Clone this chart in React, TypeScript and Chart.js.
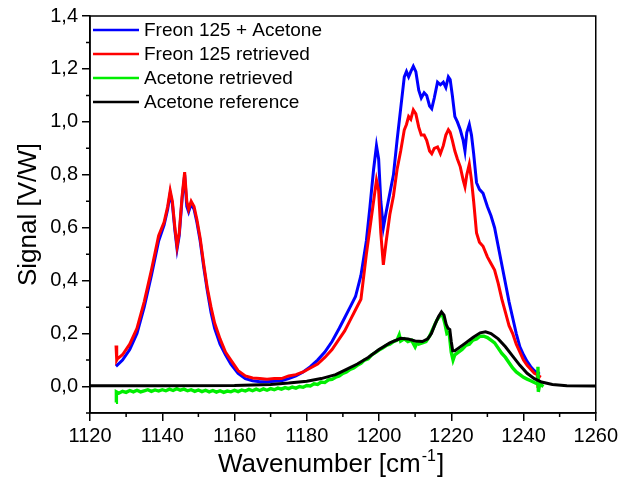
import React, { useEffect, useRef } from "react";
import { Chart, registerables } from "chart.js";

Chart.register(...registerables);

const FONT = "'Liberation Sans', Arial, sans-serif";

const xTickValues = [1120, 1140, 1160, 1180, 1200, 1220, 1240, 1260];
const xMinorTicks = [1130, 1150, 1170, 1190, 1210, 1230, 1250];
const yTickValues = [0, 0.2, 0.4, 0.6, 0.8, 1.0, 1.2, 1.4];
const yMinorTicks = [-0.1, 0.1, 0.3, 0.5, 0.7, 0.9, 1.1, 1.3];

const seriesLabels = ["Freon 125 + Acetone", "Freon 125 retrieved", "Acetone retrieved", "Acetone reference"];

const mixX = [1127.2, 1127.5, 1129, 1131, 1133, 1135, 1137, 1139, 1140.5, 1141.5, 1142.2, 1142.8, 1143.5, 1144.1, 1144.7, 1145.5, 1146.2, 1146.8, 1147.3, 1148, 1148.8, 1149.6, 1150.5, 1151.5, 1152.5, 1153.5, 1154.5, 1156, 1157.5, 1159, 1161, 1163, 1165, 1167, 1169, 1171, 1173, 1175, 1177, 1179, 1181, 1183, 1185, 1187, 1189, 1190.5, 1192, 1193.5, 1195, 1196.5, 1197.5, 1198.5, 1199.3, 1199.9, 1200.5, 1201.2, 1202, 1203, 1204, 1205, 1206, 1207, 1207.6, 1208.2, 1208.8, 1209.5, 1210.2, 1211, 1211.7, 1212.5, 1213.2, 1214, 1214.6, 1215.3, 1216.2, 1217, 1217.8, 1218.5, 1219.2, 1219.7, 1220.3, 1221, 1221.7, 1222.5, 1223.3, 1223.8, 1224.3, 1225, 1225.6, 1226.2, 1227, 1227.8, 1228.8, 1230, 1231, 1232, 1233, 1234, 1235, 1236, 1237, 1238, 1239, 1240, 1241, 1242, 1243, 1244, 1244.6];
const mixY = [0.085, 0.08, 0.1, 0.14, 0.2, 0.3, 0.42, 0.55, 0.61, 0.67, 0.73, 0.69, 0.59, 0.52, 0.57, 0.71, 0.8, 0.68, 0.66, 0.69, 0.67, 0.62, 0.55, 0.45, 0.36, 0.28, 0.22, 0.16, 0.12, 0.085, 0.05, 0.03, 0.022, 0.018, 0.018, 0.02, 0.022, 0.03, 0.04, 0.055, 0.075, 0.1, 0.13, 0.17, 0.22, 0.26, 0.3, 0.34, 0.42, 0.55, 0.68, 0.82, 0.91, 0.86, 0.7, 0.6, 0.66, 0.73, 0.8, 0.93, 1.05, 1.17, 1.19, 1.17, 1.19, 1.21, 1.19, 1.12, 1.09, 1.11, 1.1, 1.06, 1.05, 1.09, 1.15, 1.14, 1.15, 1.13, 1.17, 1.16, 1.1, 1.02, 1.0, 0.97, 0.93, 0.89, 0.96, 0.99, 0.95, 0.88, 0.77, 0.745, 0.73, 0.68, 0.645, 0.6, 0.53, 0.46, 0.39, 0.32, 0.26, 0.2, 0.15, 0.12, 0.095, 0.075, 0.06, 0.05, 0.05];

const freonX = [1127.2, 1127.4, 1127.6, 1129, 1131, 1133, 1135, 1137, 1139, 1140.5, 1141.5, 1142.2, 1142.8, 1143.5, 1144.1, 1144.7, 1145.5, 1146.2, 1146.8, 1147.3, 1148, 1148.8, 1149.6, 1150.5, 1151.5, 1152.5, 1153.5, 1154.5, 1156, 1157.5, 1159, 1161, 1163, 1165, 1167, 1169, 1171, 1173, 1175, 1177, 1179, 1181, 1183, 1185, 1187, 1189, 1190.5, 1192, 1193.5, 1195, 1196.5, 1197.5, 1198.5, 1199.3, 1199.9, 1200.5, 1201.2, 1202, 1203, 1204, 1205, 1206, 1207, 1207.6, 1208.2, 1208.8, 1209.5, 1210.2, 1211, 1211.7, 1212.5, 1213.2, 1214, 1214.6, 1215.3, 1216.2, 1217, 1217.8, 1218.5, 1219.2, 1219.7, 1220.3, 1221, 1221.7, 1222.5, 1223.3, 1223.8, 1224.3, 1225, 1225.6, 1226.2, 1227, 1227.8, 1228.8, 1230, 1231, 1232, 1233, 1234, 1235, 1236, 1237, 1238, 1239, 1240, 1241, 1242, 1243, 1243.8, 1244, 1244.2, 1244.8];
const freonY = [0.155, 0.1, 0.105, 0.12, 0.16, 0.22, 0.32, 0.44, 0.57, 0.62, 0.68, 0.74, 0.7, 0.6, 0.53, 0.58, 0.72, 0.81, 0.7, 0.67, 0.7, 0.68, 0.63, 0.56, 0.46, 0.37, 0.3, 0.24, 0.18, 0.13, 0.1, 0.06, 0.04, 0.032, 0.03, 0.028, 0.03, 0.03, 0.04, 0.045, 0.055, 0.07, 0.085, 0.11, 0.14, 0.18, 0.21, 0.25, 0.29, 0.33, 0.5, 0.6, 0.7, 0.78, 0.74, 0.58, 0.46, 0.55, 0.65, 0.72, 0.82, 0.89, 0.97, 0.99, 1.02, 1.01, 1.045, 1.03, 0.98, 0.95, 0.95, 0.93, 0.89, 0.88, 0.9, 0.905, 0.88, 0.91, 0.95, 0.97, 0.96, 0.93, 0.89, 0.86, 0.83, 0.78, 0.755, 0.8, 0.84, 0.78, 0.7, 0.58, 0.545, 0.53, 0.49, 0.465, 0.44, 0.39, 0.33, 0.28, 0.23, 0.2, 0.16, 0.13, 0.1, 0.08, 0.065, 0.05, 0.045, -0.005, 0.04, 0.035];

const acetoneX = [1127.2, 1127.3, 1128, 1129, 1130, 1131, 1132, 1133, 1134, 1135, 1136, 1137, 1138, 1139, 1140, 1141, 1142, 1143, 1144, 1145, 1146, 1147, 1148, 1149, 1150, 1151, 1152, 1153, 1154, 1155, 1156, 1157, 1158, 1159, 1160, 1161, 1162, 1163, 1164, 1165, 1166, 1167, 1168, 1169, 1170, 1171, 1172, 1173, 1174, 1175, 1176, 1177, 1178, 1179, 1180, 1181, 1182, 1183, 1184, 1185, 1186, 1187, 1188, 1189, 1190, 1191, 1192, 1193, 1194, 1195, 1196, 1197, 1198, 1199, 1200, 1201, 1202, 1203, 1204, 1205, 1205.6, 1206, 1207, 1208, 1209, 1210, 1210.5, 1211, 1212, 1213, 1214, 1215, 1216, 1217, 1217.6, 1218.2, 1218.8, 1219.4, 1220, 1220.5, 1221, 1222, 1223, 1224, 1225, 1226, 1227, 1228, 1229, 1230, 1231, 1232, 1233, 1234, 1235, 1236, 1237, 1238, 1239, 1240, 1241, 1242, 1243, 1243.8, 1244, 1244.1, 1244.5, 1245, 1245.5];
const acetoneY = [-0.06, -0.02, -0.025, -0.018, -0.022, -0.015, -0.02, -0.014, -0.02, -0.016, -0.012, -0.018, -0.013, -0.017, -0.012, -0.016, -0.01, -0.015, -0.008, -0.014, -0.01, -0.016, -0.012, -0.018, -0.013, -0.019, -0.014, -0.02, -0.015, -0.021, -0.016, -0.022, -0.017, -0.02, -0.014, -0.019, -0.013, -0.017, -0.011, -0.016, -0.01, -0.015, -0.009, -0.014, -0.008, -0.012, -0.006, -0.01, -0.004, -0.008, -0.002, -0.006, 0.0, -0.003, 0.004, 0.002, 0.01, 0.008, 0.017, 0.015, 0.025, 0.027, 0.035, 0.04, 0.05, 0.055, 0.065, 0.07, 0.08, 0.088, 0.1, 0.105, 0.12, 0.128, 0.138, 0.145, 0.155, 0.16, 0.17, 0.175, 0.195, 0.172, 0.18, 0.17, 0.175, 0.15, 0.165, 0.16, 0.165, 0.17, 0.19, 0.22, 0.25, 0.27, 0.27, 0.24, 0.2, 0.205, 0.13, 0.1, 0.12, 0.13, 0.14, 0.155, 0.16, 0.175, 0.18, 0.19, 0.19, 0.185, 0.175, 0.165, 0.145, 0.125, 0.11, 0.09, 0.07, 0.055, 0.045, 0.035, 0.028, 0.022, 0.015, 0.01, 0.075, -0.02, 0.01, 0.005, 0.0];

const refX = [1120, 1140, 1160, 1170, 1175, 1180, 1184, 1188, 1191, 1194, 1197, 1200, 1203, 1206, 1208, 1210, 1212, 1213.5, 1214.5, 1215.5, 1216.5, 1217.3, 1218, 1218.6, 1219.1, 1219.6, 1220, 1220.4, 1221, 1222, 1224, 1226, 1228, 1229.5, 1231, 1233, 1235, 1237, 1239, 1241, 1243, 1245, 1248, 1252, 1260];
const refY = [0.003, 0.003, 0.004, 0.008, 0.013, 0.02, 0.03, 0.045, 0.065, 0.085, 0.11, 0.14, 0.165, 0.182, 0.18, 0.172, 0.17, 0.18, 0.2, 0.235, 0.265, 0.282, 0.27, 0.235, 0.22, 0.215, 0.17, 0.135, 0.135, 0.145, 0.165, 0.185, 0.203, 0.207, 0.2, 0.18, 0.15, 0.115, 0.08, 0.05, 0.03, 0.017, 0.008, 0.003, 0.002];

const seriesColors = ["#0000ff", "#ff0000", "#00ee00", "#000000"];

function pts(xs: number[], ys: number[]) {
  return xs.map((x, i) => ({ x, y: ys[i] }));
}

const framePlugin = {
  id: "frame",
  afterDraw(chart: any) {
    const ctx = chart.ctx;
    const { left, right, top, bottom } = chart.chartArea;
    const xs = chart.scales.x;
    const ys = chart.scales.y;
    ctx.save();
    ctx.strokeStyle = "#000";
    ctx.lineWidth = 1.5;
    ctx.strokeRect(left, top, right - left, bottom - top);
    // minor ticks
    ctx.beginPath();
    xMinorTicks.forEach((v) => {
      const px = xs.getPixelForValue(v);
      ctx.moveTo(px, bottom);
      ctx.lineTo(px, bottom + 4);
    });
    yMinorTicks.forEach((v) => {
      const py = ys.getPixelForValue(v);
      ctx.moveTo(left, py);
      ctx.lineTo(left - 4, py);
    });
    ctx.stroke();

    // legend
    ctx.font = `19px ${FONT}`;
    ctx.textBaseline = "middle";
    ctx.textAlign = "left";
    chart.data.datasets.forEach((ds: any, i: number) => {
      const y = 30 + i * 24;
      ctx.strokeStyle = ds.borderColor;
      ctx.lineWidth = 2.6;
      ctx.beginPath();
      ctx.moveTo(93, y);
      ctx.lineTo(139, y);
      ctx.stroke();
      ctx.fillStyle = "#000";
      ctx.fillText(ds.label, 144, y + 1);
    });

    // y title
    ctx.save();
    ctx.translate(29, (top + bottom) / 2);
    ctx.rotate(-Math.PI / 2);
    ctx.font = `26px ${FONT}`;
    ctx.textAlign = "center";
    ctx.textBaseline = "middle";
    ctx.fillStyle = "#000";
    ctx.fillText("Signal [V/W]", 0, 0);
    ctx.restore();

    // x title with superscript
    const main1 = "Wavenumber [cm";
    const sup = "-1";
    const main2 = "]";
    ctx.font = `26px ${FONT}`;
    const w1 = ctx.measureText(main1).width;
    const w3 = ctx.measureText(main2).width;
    ctx.font = `16px ${FONT}`;
    const w2 = ctx.measureText(sup).width;
    const total = w1 + w2 + w3 + 2;
    let x0 = 331 - total / 2;
    const base = 472;
    ctx.textAlign = "left";
    ctx.textBaseline = "alphabetic";
    ctx.fillStyle = "#000";
    ctx.font = `26px ${FONT}`;
    ctx.fillText(main1, x0, base);
    ctx.font = `16px ${FONT}`;
    ctx.fillText(sup, x0 + w1 + 1, base - 11);
    ctx.font = `26px ${FONT}`;
    ctx.fillText(main2, x0 + w1 + w2 + 2, base);
    ctx.restore();
  },
};

export default function App() {
  const ref = useRef<HTMLCanvasElement | null>(null);
  useEffect(() => {
    document.body.style.margin = "0";
    const canvas = ref.current;
    if (!canvas) return;
    const widths = [3, 3, 3.4, 3];
    const orders = [3, 2, 1, 0];
    const allData = [pts(mixX, mixY), pts(freonX, freonY), pts(acetoneX, acetoneY), pts(refX, refY)];
    const chart = new Chart(canvas, {
      type: "line",
      data: {
        datasets: seriesLabels.map((label, i) => ({
          label,
          data: allData[i],
          borderColor: seriesColors[i],
          backgroundColor: seriesColors[i],
          borderWidth: widths[i],
          pointRadius: 0,
          tension: 0,
          fill: false,
          order: orders[i],
        })),
      },
      options: {
        responsive: false,
        animation: false,
        events: [],
        layout: { padding: { top: 16, right: 25, left: 0, bottom: 0 } },
        plugins: { legend: { display: false }, tooltip: { enabled: false } },
        scales: {
          x: {
            type: "linear",
            min: 1120,
            max: 1260,
            afterFit: (s: any) => {
              s.height = 72;
            },
            afterBuildTicks: (s: any) => {
              s.ticks = xTickValues.map((v) => ({ value: v }));
            },
            grid: { drawOnChartArea: false, drawTicks: true, tickLength: 8, color: "#000", lineWidth: 1.5 },
            border: { display: true, color: "#000", width: 1.5 },
            ticks: {
              color: "#000",
              font: { family: FONT, size: 20 },
              padding: 3,
              maxRotation: 0,
              autoSkip: false,
              callback: (v: any) => String(v),
            },
          },
          y: {
            type: "linear",
            min: -0.1,
            max: 1.4,
            afterFit: (s: any) => {
              s.width = 90;
            },
            afterBuildTicks: (s: any) => {
              s.ticks = yTickValues.map((v) => ({ value: v }));
            },
            grid: { drawOnChartArea: false, drawTicks: true, tickLength: 8, color: "#000", lineWidth: 1.5 },
            border: { display: true, color: "#000", width: 1.5 },
            ticks: {
              color: "#000",
              font: { family: FONT, size: 20 },
              padding: 4,
              autoSkip: false,
              callback: (v: any) => Number(v).toFixed(1).replace(".", ","),
            },
          },
        },
      },
      plugins: [framePlugin],
    });
    return () => chart.destroy();
  }, []);
  return <canvas ref={ref} width={621} height={485} style={{ display: "block" }} />;
}
